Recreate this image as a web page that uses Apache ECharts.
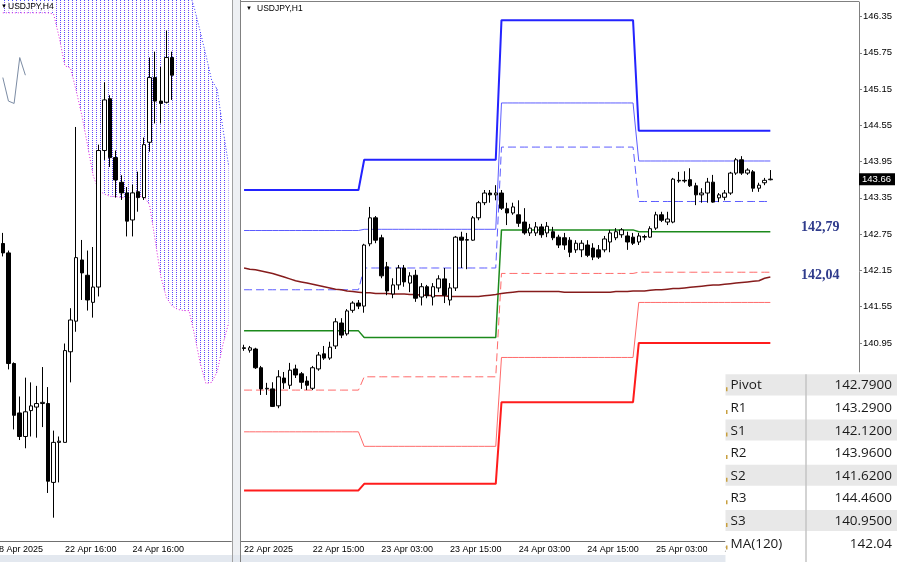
<!DOCTYPE html>
<html><head><meta charset="utf-8">
<script src="https://cdn.jsdelivr.net/npm/echarts@6/dist/echarts.min.js"></script>
<style>html,body{margin:0;padding:0;background:#fff;overflow:hidden}#c{width:900px;height:562px}</style>
</head><body><div id="c"></div>
<script>
// ===== Left panel: USDJPY H4 (bars j=-11..19, cloud to j=29) =====
const h4Open  = [142.21,142.13,141.19,140.77,140.57,140.79,140.82,140.85,140.85,140.18,140.52,140.52,141.29,141.55,142.07,141.94,141.71,141.84,143.00,143.44,142.94,142.73,142.64,142.41,142.65,142.60,143.07,143.62,143.42,143.41,143.79];
const h4Close = [142.13,141.19,140.75,140.57,140.78,140.83,140.85,140.86,140.19,140.52,140.53,141.30,141.56,142.09,141.96,141.73,141.84,143.00,143.43,142.94,142.75,142.64,142.40,142.64,142.60,143.05,143.62,143.42,143.40,143.79,143.64];
const h4Low   = [142.10,141.14,140.63,140.54,140.47,140.57,140.56,140.65,140.09,139.88,140.18,140.52,141.03,141.46,141.73,141.64,141.58,141.76,142.92,142.86,142.60,142.58,142.27,142.27,142.48,142.58,142.99,143.23,143.23,143.40,143.43];
const h4High  = [142.30,142.15,141.20,140.91,141.07,141.03,141.00,141.16,140.99,140.62,140.57,141.36,141.66,143.20,142.24,142.15,142.18,143.05,143.58,143.47,143.00,142.79,142.69,142.71,142.82,143.11,143.79,143.84,143.71,144.02,143.84];
const spanUpper = [145.2,145.2,145.2,145.1,145.1,145.0,145.0,145.0,144.9,144.9,144.9,144.9,144.8,144.8,144.8,144.8,144.7,144.7,144.7,144.7,144.6,144.6,144.6,144.6,144.5,144.5,144.5,144.5,144.45,144.45,144.4,144.4,144.4,144.36,144.20,144.01,143.81,143.60,143.52,143.19,142.88];
const spanLower = [144.17,144.17,144.17,144.17,144.17,144.17,144.17,144.17,144.17,144.16,143.96,143.72,143.70,143.51,143.30,143.05,142.79,142.66,142.63,142.61,142.61,142.60,142.60,142.60,142.61,142.61,142.54,142.24,141.93,141.75,141.68,141.65,141.64,141.64,141.43,141.19,141.02,141.03,141.12,141.35,141.53];
const chikou = [143.62,143.42,143.40,143.79,143.64];
const h4TickLabels = {11:'22 Apr 16:00', 23:'24 Apr 16:00'};
const h4FirstLabel = '18 Apr 2025';

// ===== Right panel: USDJPY H1 (bars 0..92, 22 Apr 03:00 .. 25 Apr 23:00) =====
const h1Open  = [140.87,140.83,140.85,140.54,140.19,140.19,139.91,140.37,140.25,140.52,140.44,140.32,140.20,140.52,140.77,140.70,140.90,141.28,141.10,141.49,141.61,141.56,142.59,143.02,142.69,142.21,141.76,141.91,142.19,141.94,142.07,141.71,141.88,141.71,141.86,142.01,141.66,141.86,142.70,142.65,142.65,143.02,143.27,143.43,143.40,143.43,143.17,143.10,143.07,142.95,142.77,142.77,142.87,142.77,142.79,142.70,142.69,142.65,142.49,142.49,142.57,142.52,142.49,142.49,142.62,142.69,142.74,142.72,142.70,142.62,142.70,142.70,142.85,143.07,142.95,142.95,143.63,143.64,143.65,143.55,143.40,143.43,143.61,143.35,143.36,143.43,143.76,143.98,143.76,143.78,143.51,143.60,143.65];
const h1Close = [140.86,140.87,140.54,140.19,140.20,139.90,140.39,140.29,140.50,140.42,140.30,140.25,140.54,140.75,140.70,140.88,141.30,141.08,141.48,141.61,141.56,142.57,143.02,142.65,142.06,141.81,141.91,142.19,141.96,142.06,141.69,141.88,141.73,141.88,142.01,141.74,141.86,142.70,142.65,142.66,143.02,143.27,143.43,143.40,143.43,143.18,143.10,143.20,142.93,142.77,142.85,142.87,142.74,142.88,142.69,142.57,142.57,142.45,142.60,142.60,142.40,142.37,142.37,142.67,142.77,142.79,142.82,142.62,142.60,142.72,142.71,142.84,143.07,142.98,143.00,143.66,143.64,143.63,143.55,143.40,143.43,143.61,143.28,143.40,143.43,143.76,143.98,143.76,143.81,143.51,143.56,143.64,143.66];
const h1Low   = [140.82,140.79,140.52,140.09,140.09,139.89,139.87,140.19,140.19,140.37,140.19,140.17,140.17,140.49,140.67,140.67,140.85,141.03,141.07,141.45,141.51,141.45,142.55,142.60,142.02,141.74,141.69,141.83,141.88,141.79,141.63,141.57,141.69,141.57,141.79,141.61,141.57,141.81,142.19,142.17,142.64,142.98,143.23,143.27,143.31,143.15,142.90,143.07,142.87,142.74,142.72,142.72,142.69,142.70,142.65,142.52,142.49,142.37,142.44,142.37,142.37,142.32,142.34,142.45,142.45,142.65,142.69,142.49,142.57,142.57,142.65,142.69,142.82,142.95,142.90,142.93,143.60,143.60,143.53,143.23,143.27,143.27,143.27,143.28,143.31,143.40,143.73,143.73,143.73,143.45,143.45,143.56,143.64];
const h1High  = [140.92,140.90,140.87,140.57,140.29,140.30,140.50,140.47,140.62,140.59,140.47,140.40,140.57,140.80,140.90,140.97,141.36,141.36,141.51,141.64,141.66,142.59,143.20,143.05,142.74,142.29,142.02,142.24,142.24,142.12,142.16,141.94,141.91,141.94,142.07,142.19,141.94,142.72,142.79,142.77,143.05,143.30,143.48,143.48,143.56,143.48,143.27,143.27,143.31,143.18,142.92,142.95,142.92,142.95,142.87,142.74,142.77,142.70,142.65,142.65,142.65,142.60,142.57,142.72,142.82,142.85,142.85,142.79,142.77,142.77,142.74,142.88,143.12,143.12,143.12,143.68,143.78,143.79,143.84,143.60,143.51,143.68,143.73,143.43,143.48,143.78,144.01,144.04,143.84,143.81,143.60,143.68,143.81];
const ma120 = [142.19,142.17,142.16,142.14,142.12,142.10,142.07,142.04,142.01,141.98,141.96,141.94,141.92,141.90,141.88,141.86,141.84,141.83,141.81,141.80,141.79,141.78,141.78,141.77,141.77,141.77,141.76,141.76,141.76,141.75,141.75,141.74,141.74,141.73,141.73,141.73,141.72,141.72,141.72,141.72,141.72,141.72,141.73,141.74,141.75,141.77,141.78,141.79,141.80,141.80,141.80,141.80,141.80,141.80,141.80,141.80,141.79,141.79,141.79,141.79,141.79,141.79,141.79,141.79,141.79,141.80,141.80,141.80,141.81,141.81,141.81,141.82,141.83,141.83,141.84,141.85,141.85,141.86,141.87,141.88,141.89,141.90,141.91,141.91,141.92,141.93,141.94,141.95,141.96,141.97,141.98,142.02,142.04];
// daily pivot levels for 22, 23, 24, 25 Apr
const dayStart = [0,21,45,69];
const dayEnd   = [20,44,68,92];
const lvR3 = [143.48,143.98,146.29,144.46];
const lvR2 = [142.81,142.83,144.92,143.96];
const lvR1 = [141.83,142.19,144.19,143.29];
const lvP  = [141.15,141.04,142.82,142.79];
const lvS1 = [140.17,140.39,142.10,142.12];
const lvS2 = [139.48,139.24,140.71,141.62];
const lvS3 = [138.51,138.62,139.97,140.95];
const h1TickLabels = {0:'22 Apr 2025',12:'22 Apr 15:00',24:'23 Apr 03:00',36:'23 Apr 15:00',48:'24 Apr 03:00',60:'24 Apr 15:00',72:'25 Apr 03:00',84:'25 Apr 15:00'};
const yTicks = [146.35,145.75,145.15,144.55,143.95,143.35,142.75,142.15,141.55,140.95,140.35,139.75,139.15,138.55,137.95];
const tableNames  = ['Pivot','R1','S1','R2','S2','R3','S3','MA(120)'];
const tableValues = ['142.7900','143.2900','142.1200','143.9600','141.6200','144.4600','140.9500','142.04'];
const pivotNote = '142,79';
const maNote = '142,04';

// ===== build =====
const h4Cats = spanUpper.map((_, k) => String(k));
const h1Cats = Array.from({length:108}, (_, k) => String(k));
const h4Candles = h4Open.map((o,k) => [o, h4Close[k], h4Low[k], h4High[k]]);
const h1Candles = h1Open.map((o,k) => [o, h1Close[k], h1Low[k], h1High[k]]);
const cloudDiff = spanUpper.map((u,k) => +(u - spanLower[k]).toFixed(4));
function levelSeries(lv){
  const out = [];
  for (let d=0; d<dayStart.length; d++) for (let i=dayStart[d]; i<=dayEnd[d]; i++) out.push(lv[d]);
  return out;
}
function hatch(){
  const c = document.createElement('canvas'); c.width = 4; c.height = 4;
  const g = c.getContext('2d');
  g.fillStyle = '#4a4aff'; g.fillRect(0,0,1,1);
  g.fillStyle = '#8a50f0'; g.fillRect(0,2,1,1);
  return c;
}
const chart = echarts.init(document.getElementById('c'), null, {renderer:'canvas', width:900, height:562});
const FONT = 'Liberation Sans';
function lineS(name, data, color, width, type, z){
  return {name, type:'line', xAxisIndex:1, yAxisIndex:1, data, symbol:'none', silent:true,
    lineStyle:{color, width, type: type||'solid'}, z: z||2, animation:false};
}
const candleStyle = {color:'#ffffff', color0:'#000000', borderColor:'#000000', borderColor0:'#000000', borderWidth:1};
chart.setOption({
  animation:false,
  backgroundColor:'#ffffff',
  grid:[
    {left:-1.2, top:0, width:232.5, height:541},
    {left:241.2, top:2, width:617.8, height:539}
  ],
  xAxis:[
    {type:'category', gridIndex:0, data:h4Cats, boundaryGap:true,
     axisLine:{lineStyle:{color:'#707070'}},
     axisTick:{alignWithLabel:true, length:3, interval:(i)=> (i in h4TickLabels), lineStyle:{color:'#707070'}},
     axisLabel:{interval:(i)=> (i in h4TickLabels), formatter:(v,i)=> h4TickLabels[i]||'', align:'left', margin:4, fontSize:9, fontFamily:FONT, color:'#000'},
     splitLine:{show:false}},
    {type:'category', gridIndex:1, data:h1Cats, boundaryGap:true,
     axisLine:{lineStyle:{color:'#707070'}},
     axisTick:{alignWithLabel:true, length:3, interval:(i)=> (i in h1TickLabels), lineStyle:{color:'#707070'}},
     axisLabel:{interval:(i)=> (i in h1TickLabels), formatter:(v,i)=> h1TickLabels[i]||'', align:'left', margin:4, fontSize:9, fontFamily:FONT, color:'#000'},
     splitLine:{show:false}}
  ],
  yAxis:[
    {type:'value', gridIndex:0, min:139.682, max:144.279, show:false, scale:true},
    {type:'value', gridIndex:1, min:137.674, max:146.59, position:'right', scale:true,
     axisLine:{show:true, lineStyle:{color:'#808080'}},
     axisTick:{show:true, length:3, customValues:yTicks, lineStyle:{color:'#808080'}},
     axisLabel:{customValues:yTicks, formatter:(v)=> v.toFixed(2), fontSize:9.5, fontFamily:FONT, color:'#000', margin:4},
     splitLine:{show:false}}
  ],
  series:[
    {type:'line', xAxisIndex:0, yAxisIndex:0, data:spanLower, stack:'cloud', symbol:'none', silent:true,
     lineStyle:{color:'#e020e0', width:1, type:[1,2]}, z:1},
    {type:'line', xAxisIndex:0, yAxisIndex:0, data:cloudDiff, stack:'cloud', symbol:'none', silent:true,
     lineStyle:{color:'#3030ff', width:1, type:[1,2]}, areaStyle:{color:{image:hatch(), repeat:'repeat'}, opacity:1}, z:1},
    {type:'line', xAxisIndex:0, yAxisIndex:0, data:chikou, symbol:'none', silent:true,
     lineStyle:{color:'#7c8ca4', width:1}, z:2},
    {type:'candlestick', xAxisIndex:0, yAxisIndex:0, data:h4Candles, barWidth:4, itemStyle:candleStyle, z:3, silent:true},
    lineS('R3', levelSeries(lvR3), '#2323ff', 2),
    lineS('R2', levelSeries(lvR2), '#5c5cff', 1),
    lineS('R1', levelSeries(lvR1), '#5c5cff', 1, [8,4]),
    lineS('P',  levelSeries(lvP),  '#1c8a1c', 1.5),
    lineS('S1', levelSeries(lvS1), '#ff6a6a', 1, [8,4]),
    lineS('S2', levelSeries(lvS2), '#ff6a6a', 1),
    lineS('S3', levelSeries(lvS3), '#ff1c1c', 2),
    lineS('MA120', ma120, '#861c1c', 1.5),
    {type:'candlestick', xAxisIndex:1, yAxisIndex:1, data:h1Candles, barWidth:4, itemStyle:candleStyle, z:4, silent:true}
  ]
});

// ===== graphics (positions from the chart's own scales) =====
const last = h1Close[h1Close.length-1];
const pLast = chart.convertToPixel({xAxisIndex:1, yAxisIndex:1}, [h1Close.length-1, last]);
const pPiv  = chart.convertToPixel({xAxisIndex:1, yAxisIndex:1}, [h1Close.length-1, lvP[3]]);
const pMA   = chart.convertToPixel({xAxisIndex:1, yAxisIndex:1}, [h1Close.length-1, ma120[ma120.length-1]]);
const g = [];
// frame between panels
g.push({type:'rect', shape:{x:232, y:0, width:9, height:562}, style:{fill:'#eef0f3'}, z:50});
g.push({type:'line', shape:{x1:232.5, y1:0, x2:232.5, y2:562}, style:{stroke:'#a0a0a0', lineWidth:1}, z:51});
g.push({type:'line', shape:{x1:240.5, y1:0, x2:240.5, y2:562}, style:{stroke:'#808080', lineWidth:1}, z:51});
g.push({type:'line', shape:{x1:241, y1:1.5, x2:859, y2:1.5}, style:{stroke:'#808080', lineWidth:1}, z:51});
g.push({type:'rect', shape:{x:0, y:555, width:900, height:7}, style:{fill:'#e3e8ef'}, z:50});
// titles
g.push({type:'text', x:1, y:3, style:{text:'▼', fontSize:6, fill:'#000'}, z:60});
g.push({type:'text', x:8, y:2, style:{text:'USDJPY,H4', fontSize:8.5, fontFamily:FONT, fill:'#000', backgroundColor:'rgba(255,255,255,0.7)'}, z:60});
g.push({type:'text', x:246, y:5, style:{text:'▼', fontSize:6, fill:'#000'}, z:60});
g.push({type:'text', x:257, y:4, style:{text:'USDJPY,H1', fontSize:8.5, fontFamily:FONT, fill:'#000'}, z:60});
g.push({type:'text', x:-6, y:545, style:{text:h4FirstLabel, fontSize:9, fontFamily:FONT, fill:'#000'}, z:60});
// last price box
g.push({type:'rect', shape:{x:859, y:pLast[1]-6, width:36, height:12}, style:{fill:'#000'}, z:60});
g.push({type:'text', x:862, y:pLast[1], style:{text:last.toFixed(2), fontSize:9.5, fontFamily:FONT, fill:'#fff', verticalAlign:'middle'}, z:61});
// notes
g.push({type:'text', x:801, y:pPiv[1]+3, style:{text:pivotNote, fontSize:14, fontWeight:'bold', fontFamily:'Liberation Serif', fill:'#2f3b8c', verticalAlign:'bottom'}, z:60});
g.push({type:'text', x:801, y:pMA[1]+5, style:{text:maNote, fontSize:14, fontWeight:'bold', fontFamily:'Liberation Serif', fill:'#2f3b8c', verticalAlign:'bottom'}, z:60});
// table
const tX = 725.5, tY = 374.3, rowH = 22.6, divX = 806;
g.push({type:'rect', shape:{x:tX, y:tY-2, width:900-tX, height:562-tY+2}, style:{fill:'#ffffff'}, z:70});
tableNames.forEach((n, k) => {
  const y = tY + k*rowH;
  g.push({type:'rect', shape:{x:tX, y:y, width:897-tX, height:rowH-1.5}, style:{fill: k%2===0 ? '#e8e8e8' : '#ffffff'}, z:71});
  g.push({type:'rect', shape:{x:tX+0.5, y:y+13, width:1.5, height:4}, style:{fill:'#c8a040'}, z:72});
  g.push({type:'text', x:tX+5, y:y+rowH/2, style:{text:n, fontSize:13.5, fontFamily:'Open Sans', fill:'#1a1a1a', verticalAlign:'middle'}, z:72});
  g.push({type:'text', x:892, y:y+rowH/2, style:{text:tableValues[k], fontSize:13.5, fontFamily:'Open Sans', fill:'#1a1a1a', align:'right', verticalAlign:'middle'}, z:72});
});
g.push({type:'line', shape:{x1:divX, y1:tY, x2:divX, y2:562}, style:{stroke:'#c4c4c4', lineWidth:1.5}, z:73});
chart.setOption({graphic:g});
</script></body></html>
